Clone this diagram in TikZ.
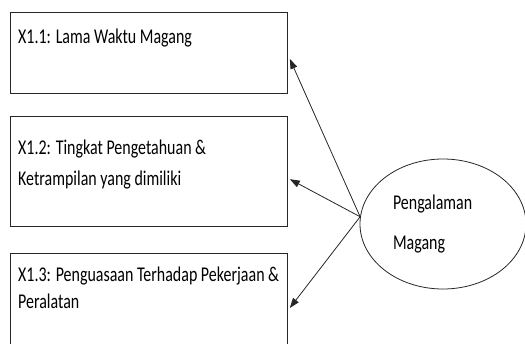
\documentclass[tikz,border=0pt]{standalone}
\usepackage{fontspec}
\setmainfont{Carlito}[FakeStretch=0.76]
\usetikzlibrary{shapes.geometric,arrows.meta,positioning}

\begin{document}
\begin{tikzpicture}[x=1pt, y=1pt, node distance=22pt,
    box/.style={draw=black!85, rectangle, line width=0.8pt, minimum width=277pt, inner sep=0pt},
    lbl/.style={inner sep=0pt, align=left, font=\fontsize{21}{31}\selectfont},
    arr/.style={-{Triangle[length=10pt,width=7pt]}, line width=0.8pt, draw=black!85}]
    \clip (0,0) rectangle (525,-343);
    % Boxes
    \node[box, minimum height=81pt, anchor=north west] (b1) at (10,-12) {};
    \node[box, minimum height=110pt, below=of b1] (b2) {};
    \node[box, minimum height=110pt, below=26pt of b2] (b3) {};
    % Texts
    \node[lbl, below right=17pt and 8pt of b1.north west] (t1) {X1.1: Lama Waktu Magang};
    \node[lbl, below right=24pt and 8pt of b2.north west] (t2) {X1.2: Tingkat Pengetahuan \&\\Ketrampilan yang dimiliki};
    \node[lbl, below right=14pt and 8pt of b3.north west, font=\fontsize{21}{27}\selectfont] (t3) {X1.3: Penguasaan Terhadap Pekerjaan \&\\Peralatan};
    % Ellipse
    \node[draw=black!85, ellipse, line width=0.8pt, minimum width=166pt, minimum height=130pt, inner sep=0pt,
          text width=100pt, align=left, font=\fontsize{21}{40}\selectfont] (pm) at (443,-224) {Pengalaman\\Magang};
    % Arrows
    \draw[arr] (pm.175) -- ([xshift=2pt,yshift=-6pt]b1.east);
    \draw[arr] (pm.175) -- ([xshift=2pt,yshift=-8pt]b2.east);
    \draw[arr] (pm.175) -- ([xshift=2pt]b3.east);
\end{tikzpicture}
\end{document}
